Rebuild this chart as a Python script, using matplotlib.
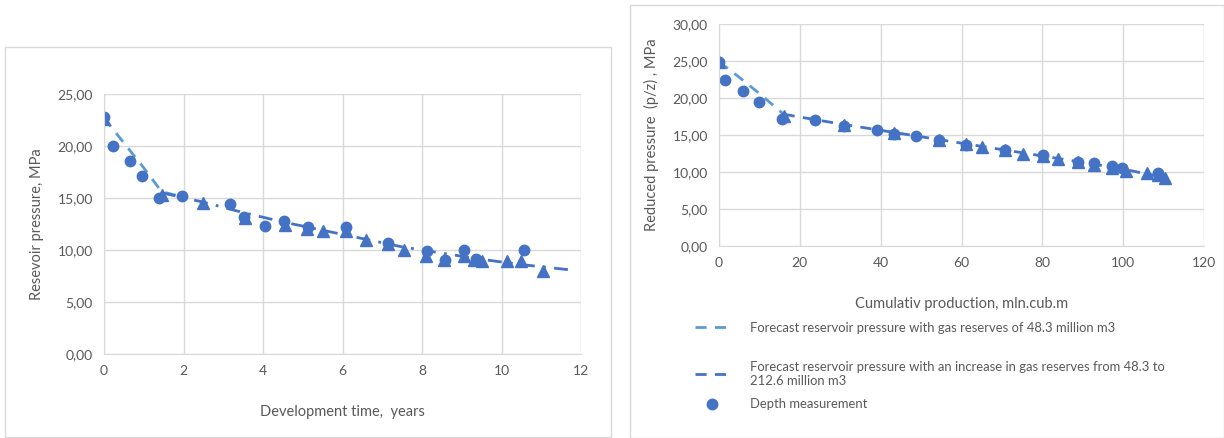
import matplotlib
matplotlib.use('Agg')
import matplotlib.pyplot as plt
from matplotlib.patches import Rectangle
from matplotlib.ticker import FuncFormatter

plt.rcParams['font.family'] = ['Lato', 'DejaVu Sans']

# left chart: time, years
t_meas = [0, 0.22, 0.66, 0.96, 1.39, 1.95, 3.16, 3.53, 4.05, 4.54, 5.13, 6.08, 7.14, 8.12, 8.57, 9.06, 9.35, 10.56]
p_meas = [22.8, 20.0, 18.6, 17.1, 15.0, 15.2, 14.4, 13.2, 12.3, 12.8, 12.2, 12.2, 10.7, 9.9, 9.0, 10.0, 9.1, 10.0]
t_tri = [0, 1.45, 2.5, 3.55, 4.55, 5.1, 5.5, 6.1, 6.6, 7.15, 7.55, 8.1, 8.55, 9.05, 9.3, 9.5, 10.15, 10.5, 11.05]
p_tri = [22.6, 15.3, 14.5, 13.1, 12.4, 12.0, 11.8, 11.8, 11.0, 10.6, 10.0, 9.4, 9.0, 9.4, 9.0, 8.9, 8.9, 8.9, 8.0]
t_fc1 = [0, 0.5, 1.0, 1.45, 2.0]
p_fc1 = [22.7, 20.3, 17.9, 15.6, 15.1]
t_fc2 = [1.45, 2.5, 3.5, 4.5, 5.5, 6.5, 7.5, 8.5, 9.5, 10.5, 11.7]
p_fc2 = [15.5, 14.6, 13.6, 12.7, 11.9, 11.1, 10.3, 9.7, 9.1, 8.6, 8.1]

# right chart: cumulative production, mln.cub.m
q_meas = [0, 1.6, 6.0, 9.8, 15.7, 23.8, 31.0, 39.2, 43.2, 48.7, 54.5, 61.2, 70.7, 80.2, 88.8, 92.8, 97.2, 99.8, 108.5]
pz_meas = [24.9, 22.4, 20.9, 19.4, 17.1, 17.0, 16.2, 15.7, 15.2, 14.9, 14.3, 13.7, 13.0, 12.3, 11.4, 11.2, 10.8, 10.5, 9.9]
q_tri = [0, 16.1, 31.0, 43.2, 54.5, 61.2, 65.0, 70.7, 75.1, 80.2, 83.8, 88.8, 92.8, 97.2, 100.6, 105.8, 108.5, 110.4]
pz_tri = [24.8, 17.6, 16.3, 15.3, 14.3, 13.8, 13.4, 13.0, 12.5, 12.2, 11.7, 11.4, 11.0, 10.6, 10.2, 9.8, 9.6, 9.2]
q_fc1 = [0, 5, 10, 16]
pz_fc1 = [24.9, 22.8, 20.6, 17.8]
q_fc2 = [16, 30, 45, 60, 75, 90, 100, 110.5]
pz_fc2 = [17.8, 16.5, 15.2, 13.9, 12.6, 11.3, 10.4, 9.2]

light = '#5B9BD5'
dark = '#4472C4'
gray = '#595959'
comma = FuncFormatter(lambda v, p: ('%.2f' % v).replace('.', ','))

fig = plt.figure(figsize=(12.24, 4.38), dpi=100)

# panel frames
fig.patches.append(Rectangle((5/1224, 1-437/438), 606/1224, 390/438, transform=fig.transFigure,
                             fill=False, edgecolor='#D9D9D9', lw=1))
fig.patches.append(Rectangle((630/1224, 0), 594/1224, 433/438, transform=fig.transFigure,
                             fill=False, edgecolor='#D9D9D9', lw=1))


def style(ax):
    ax.grid(color='#D9D9D9', lw=1)
    ax.set_axisbelow(True)
    for s in ['top', 'right']:
        ax.spines[s].set_visible(False)
    for s in ['left', 'bottom']:
        ax.spines[s].set_color('#D9D9D9')
    ax.tick_params(length=0, colors=gray, labelsize=10, pad=8)
    ax.yaxis.set_major_formatter(comma)


ax1 = fig.add_axes([104/1224, 1-354/438, 477/1224, 260/438])
ax1.plot(t_fc1, p_fc1, ls=(0, (4, 3)), color=light, lw=2)
ax1.plot(t_fc2, p_fc2, ls=(0, (5, 3, 1, 3)), color=dark, lw=2)
ax1.plot(t_meas, p_meas, 'o', color=dark, ms=7.5)
ax1.plot(t_tri, p_tri, '^', color=dark, ms=8.5)
ax1.set_xlim(0, 12)
ax1.set_ylim(0, 25)
ax1.set_xticks(range(0, 13, 2))
ax1.set_yticks([0, 5, 10, 15, 20, 25])
style(ax1)
ax1.set_xlabel('Development time,  years', color=gray, fontsize=10.5, labelpad=20)
ax1.set_ylabel('Resevoir pressure, MPa', color=gray, fontsize=10.5, labelpad=10)

ax2 = fig.add_axes([719/1224, 1-246/438, 485/1224, 222/438])
l1, = ax2.plot(q_fc1, pz_fc1, ls=(0, (4, 3)), color=light, lw=2)
l2, = ax2.plot(q_fc2, pz_fc2, ls=(0, (4, 3)), color=dark, lw=2)
m1, = ax2.plot(q_meas, pz_meas, 'o', color=dark, ms=7.5)
ax2.plot(q_tri, pz_tri, '^', color=dark, ms=8.5)
ax2.set_xlim(0, 120)
ax2.set_ylim(0, 30)
ax2.set_xticks(range(0, 121, 20))
ax2.set_yticks(range(0, 31, 5))
style(ax2)
ax2.set_xlabel('Cumulativ production, mln.cub.m', color=gray, fontsize=10.5, labelpad=20)
ax2.set_ylabel('Reduced pressure  (p/z) , MPa', color=gray, fontsize=10.5, labelpad=10)

leg_kw = dict(loc='upper left', frameon=False, fontsize=9.4, labelcolor=gray,
              handlelength=2.6, handletextpad=1.6, labelspacing=0.9)
leg1 = fig.legend([l1], ['Forecast reservoir pressure with gas reserves of 48.3 million m3'],
                  bbox_to_anchor=(683/1224, 1-310/438), **leg_kw)
leg2 = fig.legend([l2, m1],
                  ['Forecast reservoir pressure with an increase in gas reserves from 48.3 to\n212.6 million m3',
                   'Depth measurement'],
                  bbox_to_anchor=(683/1224, 1-349/438), **leg_kw)

fig.savefig('out.png', dpi=100)
